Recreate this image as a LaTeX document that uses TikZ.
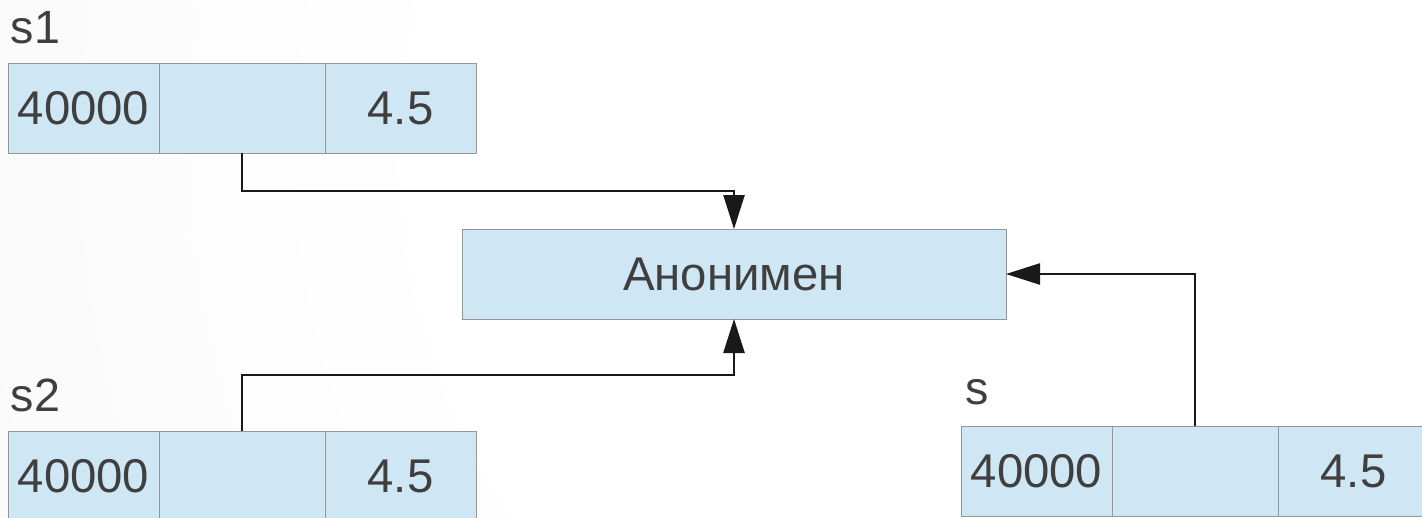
\documentclass[tikz,border=0pt]{standalone}
\usepackage{fontspec}
\setmainfont{Liberation Sans}
\usetikzlibrary{arrows.meta}
\definecolor{boxfill}{HTML}{CFE7F5}
\definecolor{boxline}{HTML}{969696}
\definecolor{txt}{HTML}{3F3F3F}
\definecolor{bggray}{HTML}{EDEDED}
\pgfdeclareradialshading{bgshade}{\pgfpoint{0bp}{0bp}}{color(0bp)=(white); color(12bp)=(white); color(50bp)=(bggray)}
\begin{document}
\begin{tikzpicture}[x=0.75pt,y=-0.75pt,
  cell/.style={draw=boxline,line width=0.75pt,fill=boxfill,text=txt,inner sep=0pt,outer sep=0pt,
    minimum height=67.5pt,font=\fontsize{35.5}{42}\selectfont},
  narrow/.style={cell,minimum width=113.25pt},
  wide/.style={cell,minimum width=124.5pt},
  lbl/.style={anchor=base west,inner sep=0pt,text=txt,font=\fontsize{35}{42}\selectfont},
  conn/.style={draw=black!90,line width=0.9pt,-{Triangle[length=25.5pt,width=16pt]}}]
\useasboundingbox (0,0) rectangle (1422,518);
\begin{scope}
\clip (0,0) rectangle (1422,518);
\shade[shading=bgshade] (1050,150) circle (1250);
\end{scope}
% s1
\node[lbl] (l1) at (10.5,43) {s1};
\node[narrow] (s1a) at (83.5,108) {40000};
\node[wide] (s1b) at (242,108) {};
\node[narrow] (s1c) at (400.5,108) {4.5};
% s2
\node[lbl] (l2) at (10.5,411) {s2};
\node[narrow] (s2a) at (83.5,476) {40000};
\node[wide] (s2b) at (242,476) {};
\node[narrow] (s2c) at (400.5,476) {4.5};
% s
\node[lbl] (l3) at (965.5,404) {s};
\node[narrow] (sa) at (1036.5,471) {40000};
\node[wide] (sb) at (1195,471) {};
\node[narrow] (sc) at (1353.5,471) {4.5};
% anonymous
\node[cell,minimum width=408pt] (anon) at (734,274) {Анонимен};
% connectors
\draw[conn] (s1b.south) -- ++(0,38) -| (anon.north);
\draw[conn] (s2b.north) -- ++(0,-56) -| (anon.south);
\draw[conn] (sb.north) |- (anon.east);
\end{tikzpicture}
\end{document}
